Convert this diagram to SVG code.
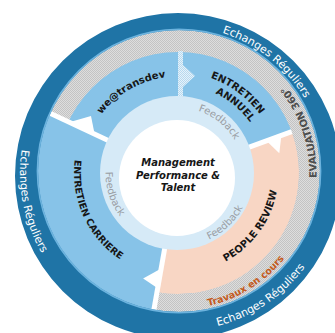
<svg xmlns="http://www.w3.org/2000/svg" width="335" height="333" viewBox="0 0 335 333">
<defs>
<pattern id="gray" width="2" height="2" patternUnits="userSpaceOnUse"><rect width="2" height="2" fill="#dddddd"/><rect width="1" height="1" fill="#c3c3c3"/><rect x="1" y="1" width="1" height="1" fill="#c3c3c3"/></pattern>
<pattern id="hatch" width="2" height="2" patternUnits="userSpaceOnUse"><rect width="2" height="2" fill="#e6f2fa"/><rect width="1" height="1" fill="#b7d9ef"/><rect x="1" y="1" width="1" height="1" fill="#b7d9ef"/></pattern>
<path id="p-ech1" d="M148.7,29.0 A147,147 0 0 1 324.95,169.15"/>
<path id="p-ech2" d="M47.0,84.65 A158,158 0 0 0 89.65,304.0"/>
<path id="p-ech3" d="M147.85,328.1 A158,158 0 0 0 333.1,203.15"/>
<path id="p-eval" d="M306.9,223.8 A138.5,138.5 0 0 0 250.4,54.9"/>
<path id="p-trav" d="M170.86,309.3 A136.5,136.5 0 0 0 303.65,226.3"/>
<path id="p-we" d="M87.3,140.0 A96.5,96.5 0 0 1 194.75,78.0"/>
<path id="p-ent" d="M180.8,72.54 A100.5,100.5 0 0 1 273.4,141.3"/>
<path id="p-ann" d="M185.67,85.33 A88,88 0 0 1 263.0,150.22"/>
<path id="p-car" d="M84.13,128.23 A104,104 0 0 0 150.21,273.2"/>
<path id="p-peo" d="M193.72,272.26 A100.5,100.5 0 0 0 277.26,157.28"/>
<path id="p-fb1" d="M176.86,107.51 A65.5,65.5 0 0 1 242.3,160.5"/>
<path id="p-fb2" d="M110.78,145.84 A72.5,72.5 0 0 0 139.58,234.48"/>
<path id="p-fb3" d="M182.49,246.36 A73.5,73.5 0 0 0 251.03,181.32"/>
</defs>
<style>
.lbl{font-family:"DejaVu Sans",Verdana,sans-serif;font-weight:bold;font-size:10px;fill:#161616}
.ech{font-family:"DejaVu Sans",Verdana,sans-serif;font-size:11px;fill:#ffffff}
.fb{font-family:"DejaVu Sans",Verdana,sans-serif;font-size:10px;fill:#9a9ea4}
.eval{font-family:"DejaVu Sans",Verdana,sans-serif;font-weight:bold;font-size:10px;fill:#4d4d4d}
.trav{font-family:"DejaVu Sans",Verdana,sans-serif;font-weight:bold;font-size:9.5px;fill:#c45a20}
.ctr{font-family:"DejaVu Sans",Verdana,sans-serif;font-weight:bold;font-style:italic;font-size:10px;fill:#161616}
.seg{fill:#87c3e8}
.gap{stroke:#ffffff;stroke-width:5;fill:none}
.notch{fill:#ffffff}
</style>
<rect width="335" height="333" fill="#ffffff"/>
<g id="ring-evaluation">
<circle cx="179" cy="171" r="143" fill="url(#gray)"/>
</g>
<g id="node-segments">
<circle class="seg" cx="178" cy="173" r="121"/>
</g>
<g id="node-people-review">
<path d="M178,173 L291.7,131.6 A121,121 0 0 1 157.0,292.2 Z" fill="#f8d6c4"/>
</g>
<g id="node-entretien-carriere">
<path class="seg" d="M178,173 L151.95,320.7 A150,150 0 0 1 42.1,109.6 Z"/>
</g>
<g id="connectors">
<line class="gap" x1="114.6" y1="143.4" x2="42.1" y2="109.6"/>
<polygon class="notch" points="94.62,134.12 69.24,122.29 91.0,115.9"/>
<polygon points="178,51 183,51 183,65 195,76 183,87 183,100 178,100" fill="url(#hatch)"/>
<line class="gap" x1="243.78" y1="149.06" x2="291.7" y2="131.6"/>
<polygon class="notch" points="266.33,140.85 281.37,135.38 279.3,153.2"/>
<line class="gap" x1="165.84" y1="241.94" x2="151.95" y2="320.7"/>
<polygon class="notch" points="161.16,268.53 157.69,288.22 143.14,278.55"/>
</g>
<g id="ring-echanges">
<path fill="#1f74a6" fill-rule="evenodd" d="M15,176 a163,163 0 1 0 326,0 a163,163 0 1 0 -326,0 Z M38,171 a141,141 0 1 0 282,0 a141,141 0 1 0 -282,0 Z"/>
<circle cx="179" cy="171" r="141.6" fill="none" stroke="#6cb3de" stroke-width="1.6"/>
<text class="ech"><textPath href="#p-ech1" startOffset="50%" text-anchor="middle">Echanges Réguliers</textPath></text>
<text class="ech"><textPath href="#p-ech2" startOffset="50%" text-anchor="middle">Echanges Réguliers</textPath></text>
<text class="ech"><textPath href="#p-ech3" startOffset="50%" text-anchor="middle">Echanges Réguliers</textPath></text>
</g>
<g id="node-feedback">
<circle cx="177" cy="173" r="77" fill="#d6eaf7"/>
<text class="fb"><textPath href="#p-fb1" startOffset="50%" text-anchor="middle">Feedback</textPath></text>
<text class="fb"><textPath href="#p-fb2" startOffset="50%" text-anchor="middle">Feedback</textPath></text>
<text class="fb"><textPath href="#p-fb3" startOffset="50%" text-anchor="middle">Feedback</textPath></text>
</g>
<g id="node-center">
<circle cx="177" cy="178" r="58" fill="#ffffff"/>
<text class="ctr" text-anchor="middle" x="178"><tspan x="178" y="166">Management</tspan><tspan x="178" y="178.5">Performance &amp;</tspan><tspan x="178" y="191">Talent</tspan></text>
</g>
<g id="labels">
<text class="lbl"><textPath href="#p-we" startOffset="50%" text-anchor="middle">we@transdev</textPath></text>
<text class="lbl"><textPath href="#p-ent" startOffset="50%" text-anchor="middle">ENTRETIEN</textPath></text>
<text class="lbl"><textPath href="#p-ann" startOffset="50%" text-anchor="middle">ANNUEL</textPath></text>
<text class="lbl" style="font-size:9.5px"><textPath href="#p-car" startOffset="50%" text-anchor="middle">ENTRETIEN CARRIERE</textPath></text>
<text class="lbl"><textPath href="#p-peo" startOffset="50%" text-anchor="middle">PEOPLE REVIEW</textPath></text>
<text class="eval"><textPath href="#p-eval" startOffset="50%" text-anchor="middle">EVALUATION 360°</textPath></text>
<text class="trav"><textPath href="#p-trav" startOffset="50%" text-anchor="middle">Travaux en cours</textPath></text>
</g>
</svg>
